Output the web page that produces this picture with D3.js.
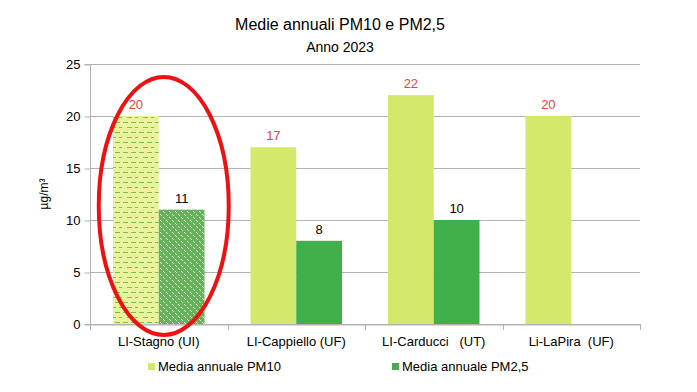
<!DOCTYPE html>
<html>
<head>
<meta charset="utf-8">
<script src="https://cdn.jsdelivr.net/npm/d3@7"></script>
<style>
  body { margin: 0; background: #fff; }
  text { font-family: "Liberation Sans", Arial, sans-serif; }
</style>
</head>
<body>
<script>
// data
var categories = ["LI-Stagno (UI)", "LI-Cappiello (UF)", "LI-Carducci   (UT)", "Li-LaPira  (UF)"];
var pm10 = [20, 17, 22, 20];
var pm25 = [11, 8, 10, null];
var seriesNames = ["Media annuale PM10", "Media annuale PM2,5"];
var yTicks = [0, 5, 10, 15, 20, 25];

var w = 697, h = 392;
var margin = { left: 90, right: 57, top: 64, bottom: 68 };

var svg = d3.select("body").append("svg")
  .attr("width", w)
  .attr("height", h);

var defs = svg.append("defs");
// dashed pattern for the highlighted PM10 bar
var p1 = defs.append("pattern")
  .attr("id", "dashes")
  .attr("patternUnits", "userSpaceOnUse")
  .attr("width", 16).attr("height", 10);
p1.append("rect").attr("width", 16).attr("height", 10).attr("fill", "#e9f39c");
p1.append("line").attr("x1", 1).attr("x2", 6).attr("y1", 2.5).attr("y2", 2.5)
  .attr("stroke", "#7dbf4a").attr("stroke-width", 1);
p1.append("line").attr("x1", 9).attr("x2", 14).attr("y1", 2.5).attr("y2", 2.5)
  .attr("stroke", "#7dbf4a").attr("stroke-width", 1);
p1.append("line").attr("x1", 5).attr("x2", 10).attr("y1", 7.5).attr("y2", 7.5)
  .attr("stroke", "#7dbf4a").attr("stroke-width", 1);
p1.append("line").attr("x1", 13).attr("x2", 18).attr("y1", 7.5).attr("y2", 7.5)
  .attr("stroke", "#7dbf4a").attr("stroke-width", 1);
// dotted pattern for the highlighted PM2.5 bar
var p2 = defs.append("pattern")
  .attr("id", "dots")
  .attr("patternUnits", "userSpaceOnUse")
  .attr("width", 6).attr("height", 6);
p2.append("rect").attr("width", 6).attr("height", 6).attr("fill", "#66b25a");
p2.append("rect").attr("x", 1).attr("y", 1).attr("width", 1).attr("height", 1).attr("fill", "#f0f8ec");
p2.append("rect").attr("x", 2).attr("y", 2).attr("width", 1).attr("height", 1).attr("fill", "#c9e6c2");
p2.append("rect").attr("x", 4).attr("y", 4).attr("width", 1).attr("height", 1).attr("fill", "#f0f8ec");
p2.append("rect").attr("x", 5).attr("y", 5).attr("width", 1).attr("height", 1).attr("fill", "#c9e6c2");

var x = d3.scaleBand()
  .domain(categories)
  .range([margin.left, w - margin.right])
  .paddingInner(0)
  .paddingOuter(0);

var xs = d3.scaleBand()
  .domain([0, 1])
  .range([23, x.bandwidth() - 23]);

var y = d3.scaleLinear()
  .domain([0, 25])
  .range([h - margin.bottom, margin.top]);

// gridlines
svg.append("g")
  .selectAll("line")
  .data(yTicks)
  .enter()
  .append("line")
  .attr("x1", margin.left)
  .attr("x2", w - margin.right)
  .attr("y1", function(d) { return y(d) + 0.5; })
  .attr("y2", function(d) { return y(d) + 0.5; })
  .attr("stroke", "#b3b3b3")
  .attr("stroke-width", 1);

// y axis
var yAxis = svg.append("g")
  .attr("transform", "translate(" + (margin.left + 0.5) + ",0.5)")
  .call(d3.axisLeft(y).tickValues(yTicks).tickSize(6).tickPadding(4));
yAxis.select(".domain").attr("stroke", "#b3b3b3").attr("d", "M-6," + (y(25)) + "H0V" + y(0) + "H-6");
yAxis.selectAll(".tick line").attr("stroke", "#b3b3b3");
yAxis.selectAll("text").attr("font-size", "13px").attr("fill", "#000")
  .style("font-family", "Liberation Sans, Arial, sans-serif");

// x axis
var xAxis = svg.append("g")
  .attr("transform", "translate(0," + (y(0) + 0.5) + ")")
  .call(d3.axisBottom(x).tickSize(0).tickPadding(12));
xAxis.select(".domain").attr("stroke", "#b3b3b3");
xAxis.selectAll("text").attr("font-size", "13px").attr("fill", "#000")
  .style("font-family", "Liberation Sans, Arial, sans-serif")
  .style("white-space", "pre");
// separators between categories
svg.append("g")
  .selectAll("line")
  .data(categories.concat(["end"]))
  .enter()
  .append("line")
  .attr("x1", function(d, i) { return Math.round(margin.left + i * x.bandwidth()) + 0.5; })
  .attr("x2", function(d, i) { return Math.round(margin.left + i * x.bandwidth()) + 0.5; })
  .attr("y1", y(0))
  .attr("y2", y(0) + 6)
  .attr("stroke", "#b3b3b3");

// bars
var groups = svg.append("g")
  .selectAll("g")
  .data(categories)
  .enter()
  .append("g")
  .attr("transform", function(d) { return "translate(" + x(d) + ",0)"; });

groups.append("rect")
  .attr("x", xs(0))
  .attr("width", xs.bandwidth())
  .attr("y", function(d, i) { return y(pm10[i]); })
  .attr("height", function(d, i) { return y(0) - y(pm10[i]); })
  .attr("fill", function(d, i) { return i == 0 ? "url(#dashes)" : "#d4e96c"; });

groups.filter(function(d, i) { return pm25[i] != null; })
  .append("rect")
  .attr("x", xs(1))
  .attr("width", xs.bandwidth())
  .attr("y", function(d) { return y(pm25[categories.indexOf(d)]); })
  .attr("height", function(d) { return y(0) - y(pm25[categories.indexOf(d)]); })
  .attr("fill", function(d) { return categories.indexOf(d) == 0 ? "url(#dots)" : "#40b04a"; });

// value labels
groups.append("text")
  .text(function(d, i) { return pm10[i]; })
  .attr("x", xs(0) + xs.bandwidth() / 2)
  .attr("y", function(d, i) { return y(pm10[i]) - 7; })
  .attr("text-anchor", "middle")
  .attr("font-size", "13px")
  .attr("fill", "#e8414c");

groups.filter(function(d, i) { return pm25[i] != null; })
  .append("text")
  .text(function(d) { return pm25[categories.indexOf(d)]; })
  .attr("x", xs(1) + xs.bandwidth() / 2)
  .attr("y", function(d) { return y(pm25[categories.indexOf(d)]) - 7; })
  .attr("text-anchor", "middle")
  .attr("font-size", "13px")
  .attr("fill", "#000");

// highlight ellipse
svg.append("ellipse")
  .attr("cx", x(categories[0]) + x.bandwidth() / 2 + 5)
  .attr("cy", y(11.35))
  .attr("rx", 65)
  .attr("ry", 129)
  .attr("fill", "none")
  .attr("stroke", "#ee1111")
  .attr("stroke-width", 4);

// titles
svg.append("text")
  .text("Medie annuali PM10 e PM2,5")
  .attr("x", 340).attr("y", 30)
  .attr("text-anchor", "middle")
  .attr("font-size", "16px");
svg.append("text")
  .text("Anno 2023")
  .attr("x", 340).attr("y", 52)
  .attr("text-anchor", "middle")
  .attr("font-size", "14px");

// y label
svg.append("text")
  .text("µg/m³")
  .attr("transform", "translate(48," + y(12.5) + ") rotate(-90)")
  .attr("text-anchor", "middle")
  .attr("font-size", "12px");

// legend
var legendX = [148, 392];
var legendColors = ["#d4e96c", "#40b04a"];
var legend = svg.append("g")
  .selectAll("g")
  .data(seriesNames)
  .enter()
  .append("g")
  .attr("transform", function(d, i) { return "translate(" + legendX[i] + ",363)"; });
legend.append("rect")
  .attr("width", 7).attr("height", 7)
  .attr("fill", function(d, i) { return legendColors[i]; });
legend.append("text")
  .text(function(d) { return d; })
  .attr("x", 10).attr("y", 8)
  .attr("font-size", "13px");
</script>
</body>
</html>
